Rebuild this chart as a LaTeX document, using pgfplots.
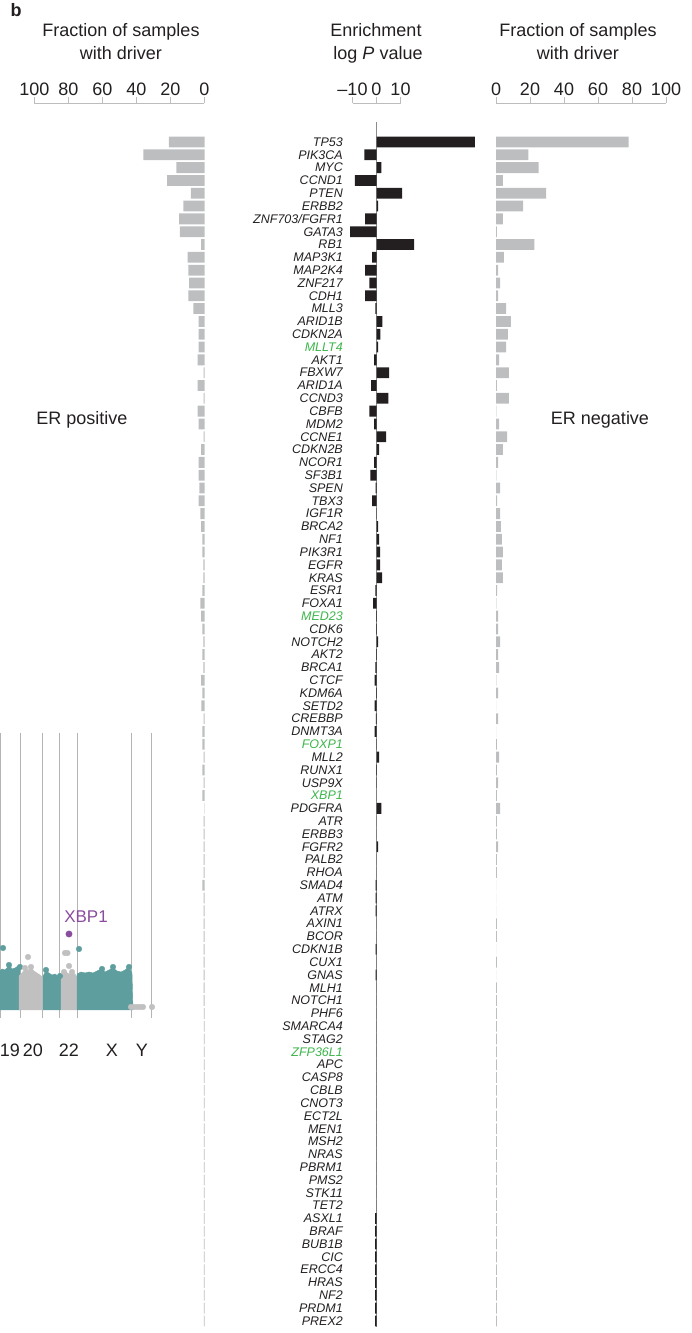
\documentclass[border=0pt]{standalone}
\usepackage{pgfplots}
\pgfplotsset{compat=1.18}
\usepackage{pgfplotstable}
\usepackage{fontspec}
\setmainfont{Liberation Sans}
\definecolor{txt}{HTML}{231F20}
\definecolor{barblack}{HTML}{231F20}
\definecolor{bargray}{HTML}{BCBEC0}
\definecolor{ggreen}{HTML}{3CB54A}
\definecolor{rulegray}{HTML}{BDBDBD}
\definecolor{zerogray}{HTML}{8C8C8C}
\definecolor{teal}{HTML}{5E9E9F}
\definecolor{ptgray}{HTML}{C0C0C0}
\definecolor{purp}{HTML}{8A4C9E}
\definecolor{vgray}{HTML}{B4B4B4}
\newcommand\fs[1]{\fontsize{#1}{#1}\selectfont}

\pgfplotstableread{
idx pos logp neg
0 21 41 78
1 36 -5.1 19
2 16.5 2.0 25
3 22 -9 4
4 8 10.7 29.5
5 12.5 0.7 16
6 15 -4.7 4
7 14.5 -11 0.5
8 2 15.7 22.5
9 10 -1.8 4.7
10 9.5 -4.7 1.2
11 9 -3 2.4
12 9.5 -4.7 1.2
13 6.5 -0.5 5.9
14 3.5 2.4 8.8
15 3.5 1.6 7
16 3.5 0.7 5.9
17 4 -1 1.8
18 0.5 5.3 7.6
19 4 -2.2 0.5
20 0.5 4.9 7.6
21 4 -3 0.2
22 3.5 -1 1.8
23 0.5 4.0 6.5
24 2 1.1 4.1
25 3.5 -1 1.2
26 3.5 -2.6 0.2
27 3 -0.4 2.4
28 3.5 -1.8 0.6
29 2.5 0.2 2.4
30 2 0.7 2.9
31 1.2 1.1 3.5
32 1.2 1.5 4.1
33 0.6 1.5 3.5
34 0.6 2.3 4.1
35 1.2 -0.5 0.6
36 2.5 -1.4 0.2
37 2 -0.2 1.2
38 1.2 -0.2 1.2
39 0.6 0.7 2.4
40 1.2 -0.2 1.2
41 0.6 -0.5 1.8
42 2 -0.8 0.2
43 1.2 -0.2 1.2
44 1.8 -0.8 0.1
45 0.5 -0.3 1.2
46 1.2 -0.8 0.1
47 1.2 -0.1 0.5
48 0.5 1.1 1.8
49 1.2 -0.2 0.5
50 0.5 -0.1 1.2
51 1.2 0.1 0.5
52 0.1 2.0 2.4
53 0.5 0 0.5
54 0.5 0 0.5
55 0.5 0.7 1.2
56 0.5 0 0.5
57 0.5 0 0.5
58 1.2 -0.4 0.1
59 0.5 -0.4 0.1
60 0.5 -0.4 0.1
61 0.5 0 0.5
62 0.5 0 0.5
63 0.5 -0.4 0.1
64 0.5 0 0.5
65 0.5 -0.4 0.1
66 0.5 0 0.5
67 0.5 0 0.5
68 0.4 0 0.5
69 0.4 0 0.5
70 0.4 0 0.5
71 0.4 0 0.5
72 0.4 0 0.5
73 0.4 0 0.5
74 0.4 0 0.5
75 0.4 0 0.5
76 0.4 0 0.5
77 0.4 0 0.5
78 0.4 0 0.5
79 0.4 0 0.5
80 0.4 0 0.5
81 0.4 0 0.5
82 0.4 0 0.5
83 0.4 0 0.5
84 0.4 -0.6 0.5
85 0.4 -0.6 0.5
86 0.4 -0.6 0.5
87 0.4 -0.6 0.5
88 0.4 -0.6 0.5
89 0.4 -0.6 0.5
90 0.4 -0.6 0.5
91 0.4 -0.6 0.5
92 0.4 -0.6 0.5
}\drivers

\pgfplotsset{
  baraxis/.style={scale only axis, height=1191.8pt, ymin=-0.5, ymax=92.5,
    y dir=reverse, xbar, bar width=10.8pt, axis line style={draw=none},
    xtick=\empty, clip=false, anchor=north west},
  ruler/.style={scale only axis, height=5pt, ymin=0, ymax=1,
    axis x line=top, axis y line=none, xtick align=outside,
    major tick length=6pt,
    every outer x axis line/.append style={-},
    axis line style={draw=rulegray, line width=0.9pt, -},
    tick style={draw=rulegray, line width=0.9pt},
    xticklabel style={font=\fs{18}, text=txt, inner sep=1pt},
    anchor=north west}
}

\begin{document}
\begin{tikzpicture}[x=1pt,y=1pt]
\useasboundingbox (0,0) rectangle (692,1333);

% panel letter and titles
\node[anchor=base west, font=\bfseries\fs{18}, text=txt] at (7,1316) {b};
\node[anchor=base, font=\fs{18}, text=txt] at (121,1296) {Fraction of samples};
\node[anchor=base, font=\fs{18}, text=txt] at (121,1273) {with driver};
\node[anchor=base, font=\fs{18}, text=txt] at (376,1296) {Enrichment};
\node[anchor=base, font=\fs{18}, text=txt] at (378,1273) {log \textit{P} value};
\node[anchor=base, font=\fs{18}, text=txt] at (578,1296) {Fraction of samples};
\node[anchor=base, font=\fs{18}, text=txt] at (578,1273) {with driver};
\node[font=\fs{18}, text=txt] at (82,913) {ER positive};
\node[font=\fs{18}, text=txt] at (600,913) {ER negative};

% rulers
\begin{axis}[ruler, at={(34.5pt,1230pt)}, width=170pt, xmin=0, xmax=100, x dir=reverse,
  xtick={0,20,40,60,80,100}, xticklabels={0,20,40,60,80,100}]
\end{axis}
\begin{axis}[ruler, at={(352.5pt,1230pt)}, width=48pt, xmin=-10, xmax=10,
  xtick={-10,0,10}, xticklabels={–10,0,10}]
\end{axis}
\begin{axis}[ruler, at={(496pt,1230pt)}, width=170pt, xmin=0, xmax=100,
  xtick={0,20,40,60,80,100}, xticklabels={0,20,40,60,80,100}]
\end{axis}

% ER positive
\begin{axis}[baraxis, at={(34.5pt,1197.4pt)}, width=170pt, xmin=0, xmax=100, x dir=reverse, ytick=\empty]
\addplot[fill=bargray, draw=none] table[x=pos, y=idx]{\drivers};
\end{axis}

% enrichment
\begin{axis}[baraxis, at={(347.7pt,1197.4pt)}, width=129.6pt, xmin=-12, xmax=42,
  ytick={0,...,92}, major tick length=0pt,
  yticklabel style={font=\itshape\fs{12.5}, text=txt, inner sep=0pt, xshift=-4.7pt},
  yticklabels={TP53,PIK3CA,MYC,CCND1,PTEN,ERBB2,ZNF703/FGFR1,GATA3,RB1,MAP3K1,%
MAP2K4,ZNF217,CDH1,MLL3,ARID1B,CDKN2A,{\color{ggreen}MLLT4},AKT1,FBXW7,ARID1A,%
CCND3,CBFB,MDM2,CCNE1,CDKN2B,NCOR1,SF3B1,SPEN,TBX3,IGF1R,BRCA2,NF1,PIK3R1,EGFR,%
KRAS,ESR1,FOXA1,{\color{ggreen}MED23},CDK6,NOTCH2,AKT2,BRCA1,CTCF,KDM6A,SETD2,%
CREBBP,DNMT3A,{\color{ggreen}FOXP1},MLL2,RUNX1,USP9X,{\color{ggreen}XBP1},PDGFRA,%
ATR,ERBB3,FGFR2,PALB2,RHOA,SMAD4,ATM,ATRX,AXIN1,BCOR,CDKN1B,CUX1,GNAS,MLH1,%
NOTCH1,PHF6,SMARCA4,STAG2,{\color{ggreen}ZFP36L1},APC,CASP8,CBLB,CNOT3,ECT2L,%
MEN1,MSH2,NRAS,PBRM1,PMS2,STK11,TET2,ASXL1,BRAF,BUB1B,CIC,ERCC4,HRAS,NF2,%
PRDM1,PREX2}]
\draw[zerogray, line width=0.9pt] (axis cs:0,-1.6) -- (axis cs:0,92.5);
\addplot[fill=barblack, draw=none] table[x=logp, y=idx]{\drivers};
\end{axis}

% ER negative
\begin{axis}[baraxis, at={(496pt,1197.4pt)}, width=170pt, xmin=0, xmax=100, ytick=\empty]
\addplot[fill=bargray, draw=none] table[x=neg, y=idx]{\drivers};
\end{axis}

% Manhattan fragment
\begin{axis}[at={(0pt,315pt)}, anchor=south west, scale only axis, width=160pt, height=285pt,
  xmin=0, xmax=160, ymin=2, ymax=287, axis line style={draw=none},
  xtick={10,33,69,112,142}, xticklabels={19,20,22,X,Y}, major tick length=0pt,
  ytick=\empty, xticklabel style={font=\fs{18}, text=txt, inner sep=0pt, yshift=-26pt},
  extra x ticks={0.6,20.7,42.3,59.3,77.3,131.7,151.7}, extra x tick labels={},
  extra x tick style={grid=major, major grid style={draw=vgray, line width=1pt}},
  clip=false]
\addplot[fill=teal, draw=teal] coordinates {(0,10) (0,49) (2,51) (5,50) (8,53) (10,54) (12,51) (15,52) (18,54) (20,51) (20,10)} --cycle;
\addplot[fill=ptgray, draw=ptgray] coordinates {(19,10) (19,44) (22,47) (25,51) (28,50) (31,52) (34,49) (37,47) (40,45) (43,42) (43,10)} --cycle;
\addplot[fill=teal, draw=teal] coordinates {(43,10) (43,44) (46,49) (49,47) (52,45) (55,46) (58,44) (61,43) (61,10)} --cycle;
\addplot[fill=ptgray, draw=ptgray] coordinates {(61,10) (61,44) (63,47) (66,48) (69,46) (72,47) (75,46) (77,43) (77,10)} --cycle;
\addplot[fill=teal, draw=teal] coordinates {(77,10) (77,46) (81,48) (85,47) (89,48) (93,47) (97,49) (101,51) (105,48) (109,50) (113,52) (117,49) (121,48) (125,50) (129,53) (132,47) (133,10)} --cycle;
\addplot[only marks, mark=*, mark size=2.8pt, color=teal] coordinates {(3,72) (79,71) (9,55) (20,53) (46,50) (60,44) (102,51) (113,53) (129,53)};
\addplot[only marks, mark=*, mark size=2.8pt, color=ptgray] coordinates {(28,63) (65,67) (67.5,67) (69,54) (25,52) (31,53) (64,48) (72,48) (131,13) (134,13) (137,13) (140,13) (143,13) (152,13)};
\addplot[only marks, mark=*, mark size=3.2pt, color=purp] coordinates {(69,86)};
\node[font=\fs{17}, text=purp] at (axis cs:86,103) {XBP1};
\end{axis}
\end{tikzpicture}
\end{document}
